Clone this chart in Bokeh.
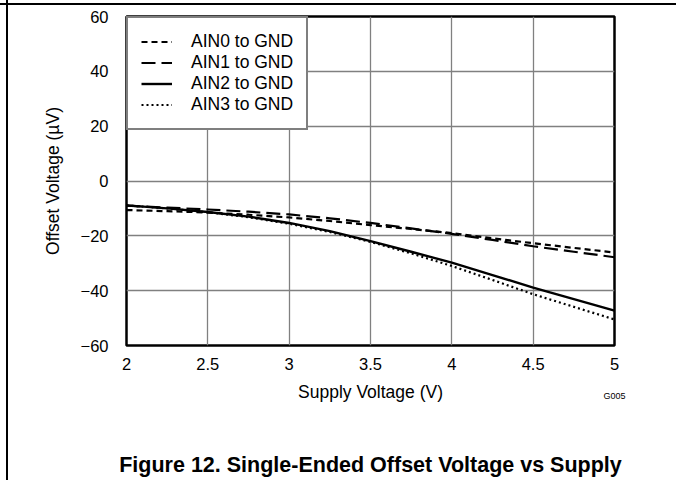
from bokeh.plotting import figure
from bokeh.models import FixedTicker, Legend, LegendItem, LinearAxis
from bokeh.embed import file_html
from bokeh.resources import INLINE

supply_v = [2.0, 2.25, 2.5, 2.75, 3.0, 3.25, 3.5, 3.75, 4.0, 4.25, 4.5, 4.75, 5.0]
ain0 = [-10.6, -11.0, -11.5, -12.3, -13.3, -14.6, -16.1, -17.5, -19.0, -20.9, -22.7, -24.4, -26.1]
ain1 = [-9.0, -9.7, -10.4, -11.2, -12.2, -13.6, -15.3, -17.3, -19.3, -21.5, -23.8, -25.8, -27.8]
ain2 = [-8.9, -10.0, -11.3, -13.0, -15.3, -18.3, -21.9, -25.8, -29.8, -34.3, -38.9, -43.1, -47.3]
ain3 = [-8.9, -10.0, -11.4, -13.2, -15.6, -18.6, -22.2, -26.4, -31.0, -36.1, -41.3, -45.9, -50.5]
series_names = ["AIN0 to GND", "AIN1 to GND", "AIN2 to GND", "AIN3 to GND"]

x_ticks = [2, 2.5, 3, 3.5, 4, 4.5, 5]
x_tick_labels = ["2", "2.5", "3", "3.5", "4", "4.5", "5"]
y_ticks = [-60, -40, -20, 0, 20, 40, 60]
y_tick_labels = ["\u221260", "\u221240", "\u221220", "0", "20", "40", "60"]
figure_id = "G005"
caption = "Figure 12. Single-Ended Offset Voltage vs Supply"

FONT = "Liberation Sans"

p = figure(width=676, height=480, x_range=(2, 5), y_range=(-60, 60),
           output_backend="svg", toolbar_location=None,
           min_border_left=126, min_border_right=62, min_border_top=16,
           min_border_bottom=135)
p.border_fill_color = None
p.background_fill_color = "white"
p.styles = {
    "background": "linear-gradient(black, black) 6px 0px / 2px 100% no-repeat, "
                  "linear-gradient(black, black) 0px 3px / 100% 2px no-repeat, white"
}

p.outline_line_color = "black"
p.outline_line_width = 2.5


def style_axis(ax):
    ax.axis_line_color = None
    ax.major_tick_line_color = None
    ax.minor_tick_line_color = None
    ax.major_label_text_font = FONT
    ax.major_label_text_font_size = "16.5px"
    ax.major_label_text_color = "black"
    ax.axis_label_text_font = FONT
    ax.axis_label_text_font_size = "17.5px"
    ax.axis_label_text_font_style = "normal"
    ax.axis_label_text_color = "black"


style_axis(p.xaxis[0])
style_axis(p.yaxis[0])

p.xaxis.ticker = FixedTicker(ticks=x_ticks)
p.xaxis.major_label_overrides = {t: l for t, l in zip(x_ticks, x_tick_labels)}
p.yaxis.ticker = FixedTicker(ticks=y_ticks)
p.yaxis.major_label_overrides = {t: l for t, l in zip(y_ticks, y_tick_labels)}
p.xaxis.major_label_standoff = 6
p.yaxis.major_label_standoff = 12
p.xaxis.axis_label = "Supply Voltage (V)"
p.yaxis.axis_label = "Offset Voltage (\u00b5V)"
p.xaxis.axis_label_standoff = 9
p.yaxis.axis_label_standoff = 15

# figure id, tucked up beside the x-axis title
id_axis = LinearAxis(ticker=FixedTicker(ticks=[x_ticks[-1]]),
                     major_label_overrides={x_ticks[-1]: figure_id})
style_axis(id_axis)
id_axis.major_label_text_font_size = "9px"
id_axis.major_label_text_align = "right"
id_axis.major_label_standoff = -20
p.add_layout(id_axis, "below")

# figure caption
cap_axis = LinearAxis(ticker=FixedTicker(ticks=[]), axis_label=caption)
style_axis(cap_axis)
cap_axis.axis_label_text_font_size = "21.5px"
cap_axis.axis_label_text_font_style = "bold"
cap_axis.axis_label_standoff = 48
p.add_layout(cap_axis, "below")

p.xgrid.grid_line_color = "#808080"
p.ygrid.grid_line_color = "#808080"
p.xgrid.grid_line_width = 1.3
p.ygrid.grid_line_width = 1.3

r0 = p.line(supply_v, ain0, line_color="black", line_width=2.2, line_dash="6 4")
r1 = p.line(supply_v, ain1, line_color="black", line_width=2.2, line_dash="14 6")
r2 = p.line(supply_v, ain2, line_color="black", line_width=2.4)
r3 = p.line(supply_v, ain3, line_color="black", line_width=2.2, line_dash="2 3")

legend = Legend(items=[LegendItem(label=n, renderers=[r]) for n, r in zip(series_names, [r0, r1, r2, r3])],
                location="top_left", margin=0, padding=13, spacing=0,
                label_standoff=19, glyph_width=31, glyph_height=21, label_height=21,
                label_text_font=FONT, label_text_font_size="17.5px", label_text_color="black",
                border_line_color="black", border_line_width=2.5,
                background_fill_color="white", background_fill_alpha=1.0)
p.add_layout(legend, "center")

open("out.html", "w").write(file_html(p, INLINE))
